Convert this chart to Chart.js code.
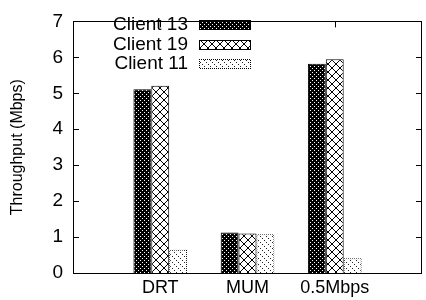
<!DOCTYPE html>
<html>
<head>
<meta charset="utf-8">
<script src="https://cdn.jsdelivr.net/npm/chart.js@4.4.1/dist/chart.umd.min.js"></script>
<style>
  html, body { margin: 0; padding: 0; background: #fff; }
  #wrap { width: 426px; height: 300px; }
</style>
</head>
<body>
<div id="wrap"><canvas id="myChart" width="426" height="300"></canvas></div>
<script>
// values
var categories = ["DRT", "MUM", "0.5Mbps"];
var seriesNames = ["Client 13", "Client 19", "Client 11"];
var client13 = [5.11, 1.13, 5.82];
var client19 = [5.21, 1.10, 5.95];
var client11 = [0.65, 1.08, 0.41];
var yMin = 0, yMax = 7, yStep = 1;

// small tiled fills like the gnuplot patterns
function makePattern(size, bg, fg, pixels){
    var c = document.createElement("canvas");
    c.width = size; c.height = size;
    var g = c.getContext("2d");
    g.fillStyle = bg;
    g.fillRect(0, 0, size, size);
    g.fillStyle = fg;
    pixels.forEach(function(p){ g.fillRect(p[0], p[1], 1, 1); });
    return g.createPattern(c, "repeat");
}

var ctx = document.getElementById("myChart").getContext("2d");

var dense = makePattern(4, "#000", "#fff", [[0,0],[2,2]]);
var crossPix = [];
for (var i = 0; i < 8; i++){ crossPix.push([i,i]); crossPix.push([i,7-i]); }
var cross = makePattern(8, "#fff", "#000", crossPix);
var sparse = makePattern(6, "#fff", "#222", [[0,0],[2,2],[4,4]]);
var dotted = makePattern(2, "#fff", "#000", [[0,0],[1,1]]);

var fills = [dense, cross, sparse];
var borders = ["#000", "#000", dotted];
var series = [client13, client19, client11];

// pad one empty slot each side so the groups sit at 1,2,3 on a 0..4 range
var labels = [""].concat(categories).concat([""]);
var datasets = series.map(function(vals, k){
    return {
        label: seriesNames[k],
        data: [null].concat(vals).concat([null]),
        backgroundColor: fills[k],
        borderColor: borders[k],
        borderWidth: 1,
        borderSkipped: "bottom",
        categoryPercentage: 0.615,
        barPercentage: 1.0
    };
});

var fontFam = "'Liberation Sans', Arial, Helvetica, sans-serif";

var framePlugin = {
    id: "frame",
    afterDatasetsDraw: function(chart){
        var a = chart.chartArea, c = chart.ctx;
        var ys = chart.scales.y, xs = chart.scales.x;
        c.save();
        c.strokeStyle = "#000";
        c.lineWidth = 1;
        c.strokeRect(Math.round(a.left) + 0.5, Math.round(a.top) + 0.5,
                     Math.round(a.right - a.left) - 1, Math.round(a.bottom - a.top));
        c.beginPath();
        for (var v = yMin + yStep; v < yMax; v += yStep){
            var py = Math.round(ys.getPixelForValue(v)) + 0.5;
            c.moveTo(a.left, py); c.lineTo(a.left + 6, py);
            c.moveTo(a.right, py); c.lineTo(a.right - 6, py);
        }
        for (var k = 1; k <= categories.length; k++){
            var px = Math.round(xs.getPixelForValue(k)) + 0.5;
            c.moveTo(px, a.top); c.lineTo(px, a.top + 6);
        }
        c.stroke();

        // legend inside, text right aligned then the sample box
        c.font = "19px " + fontFam;
        c.fillStyle = "#000";
        c.textAlign = "right";
        c.textBaseline = "middle";
        var rowY = [25, 45, 64];
        chart.data.datasets.forEach(function(ds, k){
            c.fillStyle = "#000";
            c.fillText(ds.label, 188, rowY[k]);
            c.fillStyle = ds.borderColor;
            c.fillRect(199, rowY[k] - 5, 52, 10);
            c.fillStyle = ds.backgroundColor;
            c.fillRect(200, rowY[k] - 4, 50, 8);
        });
        c.restore();
    }
};

new Chart(ctx, {
    type: "bar",
    data: { labels: labels, datasets: datasets },
    options: {
        responsive: false,
        animation: false,
        layout: { padding: { top: 13, right: 3, left: 0, bottom: 0 } },
        plugins: { legend: { display: false }, tooltip: { enabled: false } },
        scales: {
            x: {
                offset: false,
                grid: { display: false, drawTicks: false },
                border: { display: false },
                ticks: {
                    color: "#000",
                    font: { family: fontFam, size: 18 },
                    padding: 4,
                    maxRotation: 0,
                    autoSkip: false
                },
                afterFit: function(s){ s.height = 27; }
            },
            y: {
                min: yMin, max: yMax,
                grid: { display: false, drawTicks: false },
                border: { display: false },
                ticks: {
                    stepSize: yStep,
                    color: "#000",
                    font: { family: fontFam, size: 19 },
                    padding: 10
                },
                title: {
                    display: true,
                    text: "Throughput (Mbps)",
                    color: "#000",
                    font: { family: fontFam, size: 16 },
                    padding: { top: 8, bottom: 0 }
                },
                afterFit: function(s){ s.width = 73; }
            }
        }
    },
    plugins: [framePlugin]
});
</script>
</body>
</html>
